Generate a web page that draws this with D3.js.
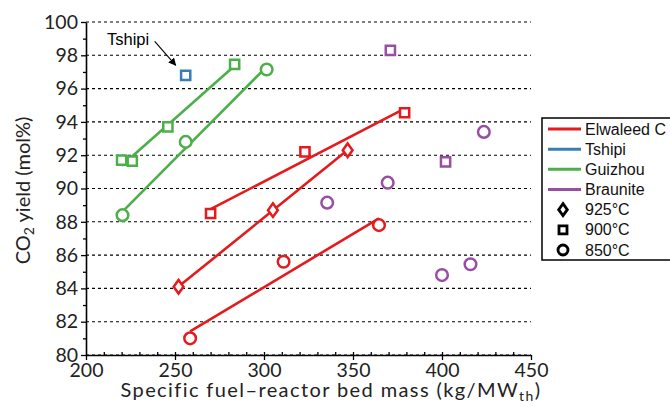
<!DOCTYPE html>
<html>
<head>
<meta charset="utf-8">
<script src="https://cdn.jsdelivr.net/npm/d3@7"></script>
<style>
  body { margin: 0; background: #fff; }
  svg { display: block; }
  .tick text { font-family: "Lato", "DejaVu Sans", sans-serif; }
</style>
</head>
<body>
<div id="chart"></div>
<script>
// ore types and their colours
var oreNames = ["Elwaleed C", "Tshipi", "Guizhou", "Braunite"];
var oreColors = ["#e41a1c", "#377eb8", "#4daf4a", "#984ea3"];
var tempLabels = ["925\u00b0C", "900\u00b0C", "850\u00b0C"];
var tempShapes = ["diamond", "square", "circle"];

var elwaleed925X = [252, 305, 347],            elwaleed925Y = [84.1, 88.7, 92.3];
var elwaleed900X = [270, 323, 379],            elwaleed900Y = [88.5, 92.2, 94.55];
var elwaleed850X = [258.5, 311, 364.6],        elwaleed850Y = [81.0, 85.6, 87.8];
var tshipi900X = [256],                        tshipi900Y = [96.8];
var guizhou900X = [220, 226, 246, 283.5],      guizhou900Y = [91.7, 91.65, 93.7, 97.45];
var guizhou850X = [220.5, 256, 301.5],         guizhou850Y = [88.4, 92.8, 97.15];
var braunite900X = [371, 402],                 braunite900Y = [98.3, 91.6];
var braunite850X = [335.5, 369.5, 400, 416, 423.5], braunite850Y = [89.15, 90.35, 84.8, 85.45, 93.4];

var xTicks = [200, 250, 300, 350, 400, 450];
var yTicks = [80, 82, 84, 86, 88, 90, 92, 94, 96, 98, 100];

// groups: ore index, temperature index, values, whether a trend line is drawn
var groups = [
  { ore: 0, temp: 0, xs: elwaleed925X, ys: elwaleed925Y, fit: true },
  { ore: 0, temp: 1, xs: elwaleed900X, ys: elwaleed900Y, fit: true },
  { ore: 0, temp: 2, xs: elwaleed850X, ys: elwaleed850Y, fit: true },
  { ore: 1, temp: 1, xs: tshipi900X, ys: tshipi900Y, fit: false },
  { ore: 2, temp: 1, xs: guizhou900X, ys: guizhou900Y, fit: true },
  { ore: 2, temp: 2, xs: guizhou850X, ys: guizhou850Y, fit: true },
  { ore: 3, temp: 1, xs: braunite900X, ys: braunite900Y, fit: false },
  { ore: 3, temp: 2, xs: braunite850X, ys: braunite850Y, fit: false }
];

var width = 670,
  height = 407,
  plotLeft = 86,
  plotRight = 531,
  plotTop = 22,
  plotBottom = 355;

var svg = d3.select("#chart")
  .append("svg")
  .attr("width", width)
  .attr("height", height);

var x = d3.scaleLinear().domain([200, 450]).range([plotLeft, plotRight]);
var y = d3.scaleLinear().domain([80, 100]).range([plotBottom, plotTop]);

// dashed grid lines
svg.append("g")
  .selectAll("line")
  .data(yTicks)
  .enter()
  .append("line")
  .attr("x1", plotLeft)
  .attr("x2", plotRight)
  .attr("y1", function(d) { return y(d); })
  .attr("y2", function(d) { return y(d); })
  .attr("stroke", "#000")
  .attr("stroke-width", 1.1)
  .style("stroke-dasharray", "3,3");

// y axis: major ticks + minor ticks
svg.append("g")
  .attr("transform", "translate(" + plotLeft + ",0)")
  .call(d3.axisLeft(y).tickValues(yTicks).tickSize(5).tickPadding(3).tickSizeOuter(0));
svg.append("g")
  .attr("transform", "translate(" + plotLeft + ",0)")
  .call(d3.axisLeft(y).tickValues(d3.range(81, 100, 2)).tickSize(3).tickFormat("").tickSizeOuter(0))
  .select(".domain").remove();

// x axis: major ticks outward, minor ticks inward
svg.append("g")
  .attr("transform", "translate(0," + plotBottom + ")")
  .call(d3.axisBottom(x).tickValues(xTicks).tickSize(5).tickPadding(3).tickSizeOuter(0));
svg.append("g")
  .attr("transform", "translate(0," + plotBottom + ")")
  .call(d3.axisTop(x).tickValues(d3.range(210, 450, 10)).tickSize(3).tickFormat("").tickSizeOuter(0))
  .select(".domain").remove();

svg.selectAll(".domain").attr("stroke", "#000").attr("stroke-width", 1.6);
svg.selectAll(".tick line").attr("stroke", "#000").attr("stroke-width", 1.3);
svg.selectAll(".tick text")
  .attr("fill", "#222")
  .style("font-size", "19.5px");

// least squares trend line between the smallest and largest x of a group
function trend(g) {
  var mx = d3.mean(g.xs), my = d3.mean(g.ys);
  var sxy = d3.sum(g.xs, function(v, i) { return (v - mx) * (g.ys[i] - my); });
  var sxx = d3.sum(g.xs, function(v) { return (v - mx) * (v - mx); });
  var b = sxy / sxx, a = my - b * mx;
  var x0 = d3.min(g.xs), x1 = d3.max(g.xs);
  return [[x0, a + b * x0], [x1, a + b * x1]];
}

var line = d3.line()
  .x(function(d) { return x(d[0]); })
  .y(function(d) { return y(d[1]); });

svg.append("g")
  .selectAll("path")
  .data(groups.filter(function(g) { return g.fit; }))
  .enter()
  .append("path")
  .attr("d", function(g) { return line(trend(g)); })
  .attr("fill", "none")
  .attr("stroke", function(g) { return oreColors[g.ore]; })
  .attr("stroke-width", 2.6);

// marker shapes
function shapePath(shape, s) {
  if (shape === "diamond") {
    return "M0," + (-s) + "L" + (s * 0.72) + ",0L0," + s + "L" + (-s * 0.72) + ",0Z";
  }
  if (shape === "square") {
    return "M" + (-s) + "," + (-s) + "H" + s + "V" + s + "H" + (-s) + "Z";
  }
  return "M" + s + ",0A" + s + "," + s + " 0 1,1 " + (-s) + ",0A" + s + "," + s + " 0 1,1 " + s + ",0Z";
}
var markerSize = [6.8, 4.6, 5.8];

var points = [];
groups.forEach(function(g) {
  g.xs.forEach(function(v, i) {
    points.push({ x: v, y: g.ys[i], ore: g.ore, temp: g.temp });
  });
});

svg.append("g")
  .selectAll("path")
  .data(points)
  .enter()
  .append("path")
  .attr("transform", function(d) { return "translate(" + x(d.x) + "," + y(d.y) + ")"; })
  .attr("d", function(d) { return shapePath(tempShapes[d.temp], markerSize[d.temp]); })
  .attr("fill", "#fff")
  .attr("stroke", function(d) { return oreColors[d.ore]; })
  .attr("stroke-width", 2.5);

// axis titles
svg.append("text")
  .attr("transform", "translate(30," + ((plotTop + plotBottom) / 2 + 2) + ") rotate(-90)")
  .attr("text-anchor", "middle")
  .style("font-family", "Lato, 'DejaVu Sans', sans-serif")
  .style("font-size", "20px")
  .attr("fill", "#222")
  .call(function(t) {
    t.append("tspan").text("CO");
    t.append("tspan").attr("baseline-shift", "-25%").style("font-size", "14px").text("2");
    t.append("tspan").text(" yield (mol%)");
  });

svg.append("text")
  .attr("x", 331)
  .attr("y", 397)
  .attr("text-anchor", "middle")
  .style("font-family", "Lato, 'DejaVu Sans', sans-serif")
  .style("font-size", "20px")
  .style("letter-spacing", "1.4px")
  .attr("fill", "#222")
  .call(function(t) {
    t.append("tspan").text("Specific fuel\u2013reactor bed mass (kg/MW");
    t.append("tspan").attr("baseline-shift", "-30%").style("font-size", "14px").text("th");
    t.append("tspan").text(")");
  });

// Tshipi annotation with arrow
svg.append("defs")
  .append("marker")
  .attr("id", "arrow")
  .attr("viewBox", "0 0 10 10")
  .attr("refX", 9)
  .attr("refY", 5)
  .attr("markerWidth", 7)
  .attr("markerHeight", 7)
  .attr("orient", "auto")
  .append("path")
  .attr("d", "M0,0L10,5L0,10Z")
  .attr("fill", "#000");

svg.append("text")
  .attr("x", 107)
  .attr("y", 45)
  .style("font-family", "'Liberation Sans', Arial, sans-serif")
  .style("font-size", "16.5px")
  .attr("fill", "#000")
  .text(oreNames[1]);

svg.append("line")
  .attr("x1", x(tshipi900X[0]) - 31)
  .attr("y1", y(tshipi900Y[0]) - 34)
  .attr("x2", x(tshipi900X[0]) - 10)
  .attr("y2", y(tshipi900Y[0]) - 10)
  .attr("stroke", "#000")
  .attr("stroke-width", 1.1)
  .attr("marker-end", "url(#arrow)");

// legend
var legend = svg.append("g").attr("transform", "translate(542,118)");
legend.append("rect")
  .attr("width", 140)
  .attr("height", 142)
  .attr("fill", "#fff")
  .attr("stroke", "#000")
  .attr("stroke-width", 1.5);

var rowY = d3.scaleLinear().domain([0, 6]).range([11, 132]);

legend.selectAll(".ore-line")
  .data(oreNames)
  .enter()
  .append("line")
  .attr("x1", 6)
  .attr("x2", 39)
  .attr("y1", function(d, i) { return rowY(i); })
  .attr("y2", function(d, i) { return rowY(i); })
  .attr("stroke", function(d, i) { return oreColors[i]; })
  .attr("stroke-width", 3);

legend.selectAll(".temp-mark")
  .data(tempLabels)
  .enter()
  .append("path")
  .attr("transform", function(d, i) { return "translate(21," + rowY(i + 4) + ")"; })
  .attr("d", function(d, i) { return shapePath(tempShapes[i], [6, 4, 5][i]); })
  .attr("fill", "#fff")
  .attr("stroke", "#000")
  .attr("stroke-width", 2.8);

legend.selectAll(".label")
  .data(oreNames.concat(tempLabels))
  .enter()
  .append("text")
  .attr("x", 43)
  .attr("y", function(d, i) { return rowY(i) + 5.5; })
  .style("font-family", "'Liberation Sans', Arial, sans-serif")
  .style("font-size", "16px")
  .attr("fill", "#111")
  .text(function(d) { return d; });
</script>
</body>
</html>
